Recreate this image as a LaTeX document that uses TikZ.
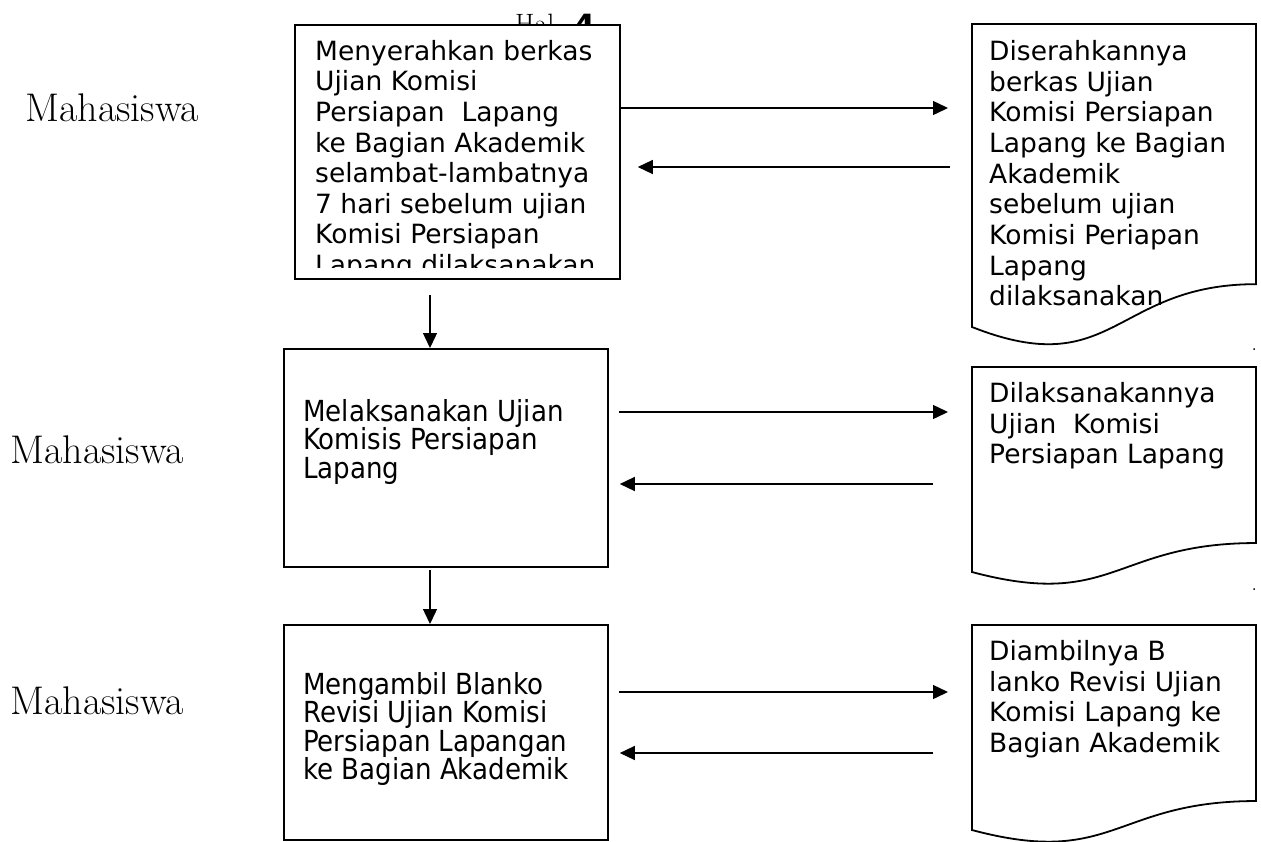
\documentclass[tikz,border=0pt]{standalone}
\usepackage{fontspec}
\newfontfamily\boxfont{DejaVu Sans}
\newfontfamily\condfont{DejaVu Sans Condensed}
\usetikzlibrary{arrows.meta}

\begin{document}
\begin{tikzpicture}[x=1pt,y=-1pt]
    \tikzstyle{box}=[draw=black,fill=white,line width=1.8pt,anchor=north west,inner sep=0pt]
    \tikzstyle{frame}=[anchor=north west,inner sep=0pt,minimum width=284pt]
    \tikzstyle{txt}=[anchor=north west,inner sep=0pt,align=left,font=\boxfont\fontsize{26.5}{30.6}\selectfont]
    \tikzstyle{doctxt}=[anchor=north west,inner sep=0pt,align=left,font=\boxfont\fontsize{26.5}{30.7}\selectfont]
    \tikzstyle{condtxt}=[anchor=north west,inner sep=0pt,align=left,font=\condfont\fontsize{29}{28.5}\selectfont]
    \tikzstyle{actor}=[anchor=base west,inner sep=0pt,font=\fontsize{40}{44}\selectfont]
    \tikzstyle{flow}=[line width=1.4pt,-{Triangle[length=15pt,width=14pt]}]
    \useasboundingbox (0,0) rectangle (1261,841);

    % page number, mostly hidden by the first box
    \node[anchor=base west,inner sep=0pt,font=\fontsize{28}{30}\selectfont] (hal) at (515,33) {Hal};
    \node[anchor=base west,inner sep=0pt,font=\boxfont\bfseries\fontsize{32}{36}\selectfont] (hal-no) at (573,37) {4};

    % process boxes
    \node[box,minimum width=325pt,minimum height=254pt] (b1) at (294,24) {};
    \node[box,minimum width=324pt,minimum height=218pt] (b2) at (283,348) {};
    \node[box,minimum width=324pt,minimum height=215pt] (b3) at (283,624) {};

    \begin{scope}
        \clip (294,24) rectangle (619,267);
        \node[txt] (t-b1) at (315,40) {Menyerahkan berkas\\Ujian Komisi\\Persiapan\ \ Lapang\\ke Bagian Akademik\\selambat-lambatnya\\7 hari sebelum ujian\\Komisi Persiapan\\Lapang dilaksanakan};
    \end{scope}
    \node[condtxt] (t-b2) at (303,399) {Melaksanakan Ujian\\Komisis Persiapan\\Lapang};
    \node[condtxt] (t-b3) at (303,672) {Mengambil Blanko\\Revisi Ujian Komisi\\Persiapan Lapangan\\ke Bagian Akademik};

    % document shapes
    \foreach \nm/\top/\H in {d1/24/324.4, d2/367/219.5, d3/625/219.5} {
        \pgfmathsetmacro{\R}{\top+0.802*\H}
        \pgfmathsetmacro{\L}{\top+0.934*\H}
        \pgfmathsetmacro{\C}{\top+1.107*\H}
        \pgfmathsetmacro{\F}{0.934*\H}
        \node[frame,minimum height=\F pt] (\nm) at (972,\top) {};
        \draw[line width=1.8pt,line join=miter] (972,\top) -- (1256,\top) -- (1256,\R)
            .. controls (1114,\R) and (1114,\C) .. (972,\L) -- cycle;
    }
    \node[doctxt] (t-d1) at (989,40) {Diserahkannya\\berkas Ujian\\Komisi Persiapan\\Lapang ke Bagian\\Akademik\\sebelum ujian\\Komisi Periapan\\Lapang\\dilaksanakan};
    \node[doctxt] (t-d2) at (989,382) {Dilaksanakannya\\Ujian\ \ Komisi\\Persiapan Lapang};
    \node[doctxt] (t-d3) at (989,640) {Diambilnya B\\lanko Revisi Ujian\\Komisi Lapang ke\\Bagian Akademik};

    \node[anchor=base west,inner sep=0pt,font=\boxfont\fontsize{14}{16}\selectfont] (dot1) at (1252,350) {.};
    \node[anchor=base west,inner sep=0pt,font=\boxfont\fontsize{14}{16}\selectfont] (dot2) at (1252,590) {.};

    % actors
    \node[actor] (m1) at (25,121) {Mahasiswa};
    \node[actor] (m2) at (10,463) {Mahasiswa};
    \node[actor] (m3) at (10,714) {Mahasiswa};

    % flows between box and document
    \foreach \b/\d/\yr/\yl/\sa/\sb/\sc/\sd in {b1/d1/108/167/0/24/22/17, b2/d2/412/484/10/24/39/11, b3/d3/692/753/10/24/39/11} {
        \draw[flow,shorten <=\sa pt,shorten >=\sb pt] (\b.east |- 0,\yr) -- (\d.west |- 0,\yr);
        \draw[flow,shorten <=\sc pt,shorten >=\sd pt] (\d.west |- 0,\yl) -- (\b.east |- 0,\yl);
    }

    % flow down the column
    \draw[flow,shorten <=15pt] (b1.south -| 430,0) -- (b2.north -| 430,0);
    \draw[flow,shorten <=2pt] (b2.south -| 430,0) -- (b3.north -| 430,0);
\end{tikzpicture}
\end{document}
